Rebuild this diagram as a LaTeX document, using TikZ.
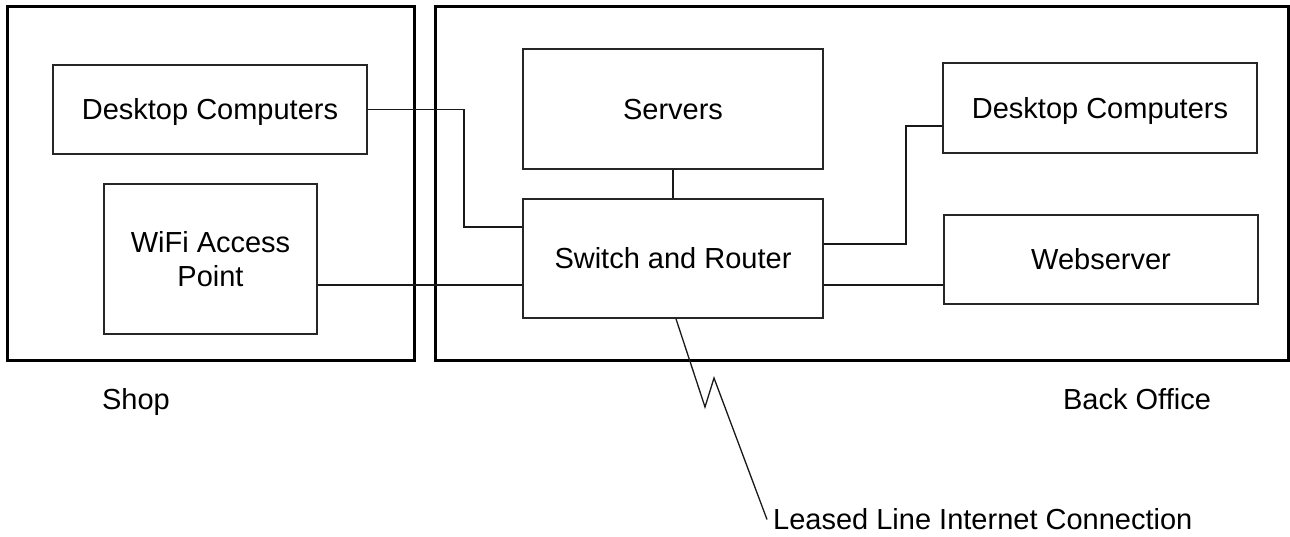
\documentclass[tikz,border=0pt]{standalone}
\usepackage{fontspec}
\setmainfont{Liberation Sans}

\newcommand*\labelfont{\fontsize{29}{34.6}\selectfont}
\tikzset{
  area/.style 2 args={
    draw,
    line width=3pt,
    rectangle,
    inner sep=0pt,
    minimum width=#1,
    minimum height=#2
  },
  unit/.style 2 args={
    draw=black!85,
    line width=1.8pt,
    rectangle,
    fill=white,
    font=\labelfont,
    inner sep=0pt,
    align=center,
    text height=21pt,
    text depth=0pt,
    minimum width=#1,
    minimum height=#2
  },
  roomname/.style={font=\labelfont, anchor=base},
  link/.style={line width=1.3pt, black!90}
}

\begin{document}
\begin{tikzpicture}[x=1pt,y=-1pt]
    \useasboundingbox (0,0) rectangle (1290,537);

    % The two rooms.
    \node[area={407pt}{353pt}] (shop) at (210.5,183.5) {};
    \node[area={853pt}{353pt}] (office) at (861.5,183.5) {};

    % Room names below the rooms.
    \node[roomname] (shoplabel) at (136,409) {Shop};
    \node[roomname] (officelabel) at (1137,409) {Back Office};

    % Shop
    \node[unit={314pt}{89pt}] (shopdesk) at (210,109.5) {Desktop Computers};
    \node[unit={213pt}{150pt}, text height={}, text depth={}] (wifi) at (210.5,259) {WiFi Access\\Point};

    % Back office
    \node[unit={300pt}{120pt}] (servers) at (673,109) {Servers};
    \node[unit={300pt}{119pt}] (switch) at (673,258.5) {Switch and Router};
    \node[unit={314pt}{90pt}] (officedesk) at (1100,108) {Desktop Computers};
    \node[unit={314pt}{89pt}] (webserver) at (1101,259.5) {Webserver};

    % Outside line
    \node[font=\labelfont, anchor=west, inner sep=6pt] (leased) at (767,519.5) {Leased Line Internet Connection};

    % Cabling between the boxes.
    \draw[link] (shopdesk.east) -| (464,227) -- (switch.west |- 0,227);
    \draw[link] (wifi.east |- 0,285) -- (switch.west |- 0,285);
    \draw[link] (servers) -- (switch);
    \draw[link] (switch.east |- 0,244) -| (906,126) -- (officedesk.west |- 0,126);
    \draw[link] (switch.east |- 0,285) -- (webserver.west |- 0,285);
    \draw[link] (switch.south -| 676,0) -- (705,407) -- (714,378) -- (leased.west);

\end{tikzpicture}
\end{document}
